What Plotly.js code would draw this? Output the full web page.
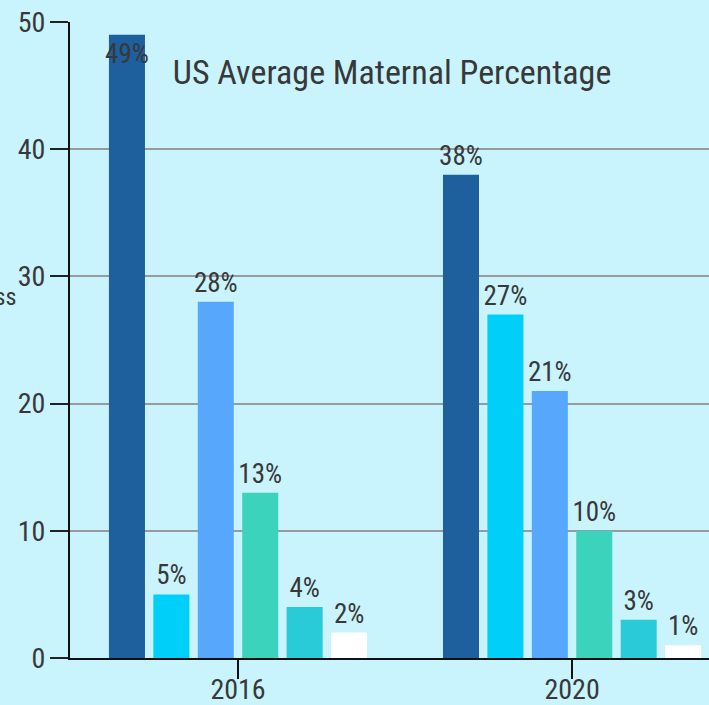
<!DOCTYPE html>
<html>
<head>
<meta charset="utf-8">
<script src="https://cdn.plot.ly/plotly-3.0.1.min.js"></script>
<style>html,body{margin:0;padding:0;background:#c9f4fd;overflow:hidden}</style>
</head>
<body>
<div id="chart" style="width:709px;height:705px"></div>
<script>
const years = ['2016', '2020'];
const seriesNames = ['Series A', 'Series B', 'Series C', 'Series D', 'Series E', 'Series F'];
const values2016 = [49, 5, 28, 13, 4, 2];
const values2020 = [38, 27, 21, 10, 3, 1];
const colors = ['#1d609d', '#00cffa', '#57a8fc', '#3bd3bb', '#2acbd8', '#ffffff'];
const yTicks = [0, 10, 20, 30, 40, 50];

const FONT = 'Roboto Condensed, Liberation Sans Narrow, Roboto, sans-serif';
const LABEL_FONT = {family: FONT, size: 27, color: '#383838'};
const TICK_FONT = {family: FONT, size: 28, color: '#383838'};

const traces = seriesNames.map((name, i) => {
  const vals = [values2016[i], values2020[i]];
  return {
    type: 'bar',
    name: name,
    x: years,
    y: vals,
    text: vals.map(v => v + '%'),
    textposition: vals.map(v => (v >= 48 ? 'inside' : 'outside')),
    textfont: LABEL_FONT,
    insidetextfont: LABEL_FONT,
    outsidetextfont: LABEL_FONT,
    insidetextanchor: 'end',
    textangle: 0,
    constraintext: 'none',
    cliponaxis: false,
    marker: {color: colors[i], line: {width: 0}},
    hoverinfo: 'none'
  };
});

const layout = {
  width: 709,
  height: 705,
  paper_bgcolor: '#c9f4fd',
  plot_bgcolor: '#c9f4fd',
  showlegend: false,
  barmode: 'group',
  bargap: 0.202,
  bargroupgap: 0.189,
  margin: {l: 70, r: 0, t: 22, b: 47, pad: 0},
  font: {family: FONT, size: 24, color: '#383838'},
  title: {
    text: 'US Average Maternal Percentage',
    font: {family: FONT, size: 34, color: '#383838'},
    x: 0.553, xanchor: 'center',
    y: 0.898, yanchor: 'middle',
    xref: 'container', yref: 'container'
  },
  xaxis: {
    type: 'category',
    range: [-0.503, 1.41],
    showgrid: false,
    showline: true,
    linecolor: '#111111',
    linewidth: 2,
    ticks: 'outside',
    ticklen: 19,
    tickwidth: 2,
    tickcolor: '#111111',
    ticklabelstandoff: -14,
    tickfont: TICK_FONT,
    zeroline: false,
    fixedrange: true
  },
  yaxis: {
    range: [0, 50],
    tickvals: yTicks,
    showgrid: true,
    gridcolor: '#9a9a9a',
    gridwidth: 2,
    showline: true,
    linecolor: '#111111',
    linewidth: 2,
    ticks: 'outside',
    ticklen: 18,
    tickwidth: 2,
    tickcolor: '#222222',
    ticklabelstandoff: -1,
    tickfont: TICK_FONT,
    zeroline: false,
    fixedrange: true
  },
  annotations: [{
    text: 'Class',
    xref: 'paper', yref: 'paper',
    x: -0.08, y: 0.568,
    xanchor: 'right', yanchor: 'middle',
    showarrow: false,
    font: {family: FONT, size: 24, color: '#383838'}
  }]
};

Plotly.newPlot('chart', traces, layout, {displayModeBar: false, staticPlot: true});
</script>
</body>
</html>
